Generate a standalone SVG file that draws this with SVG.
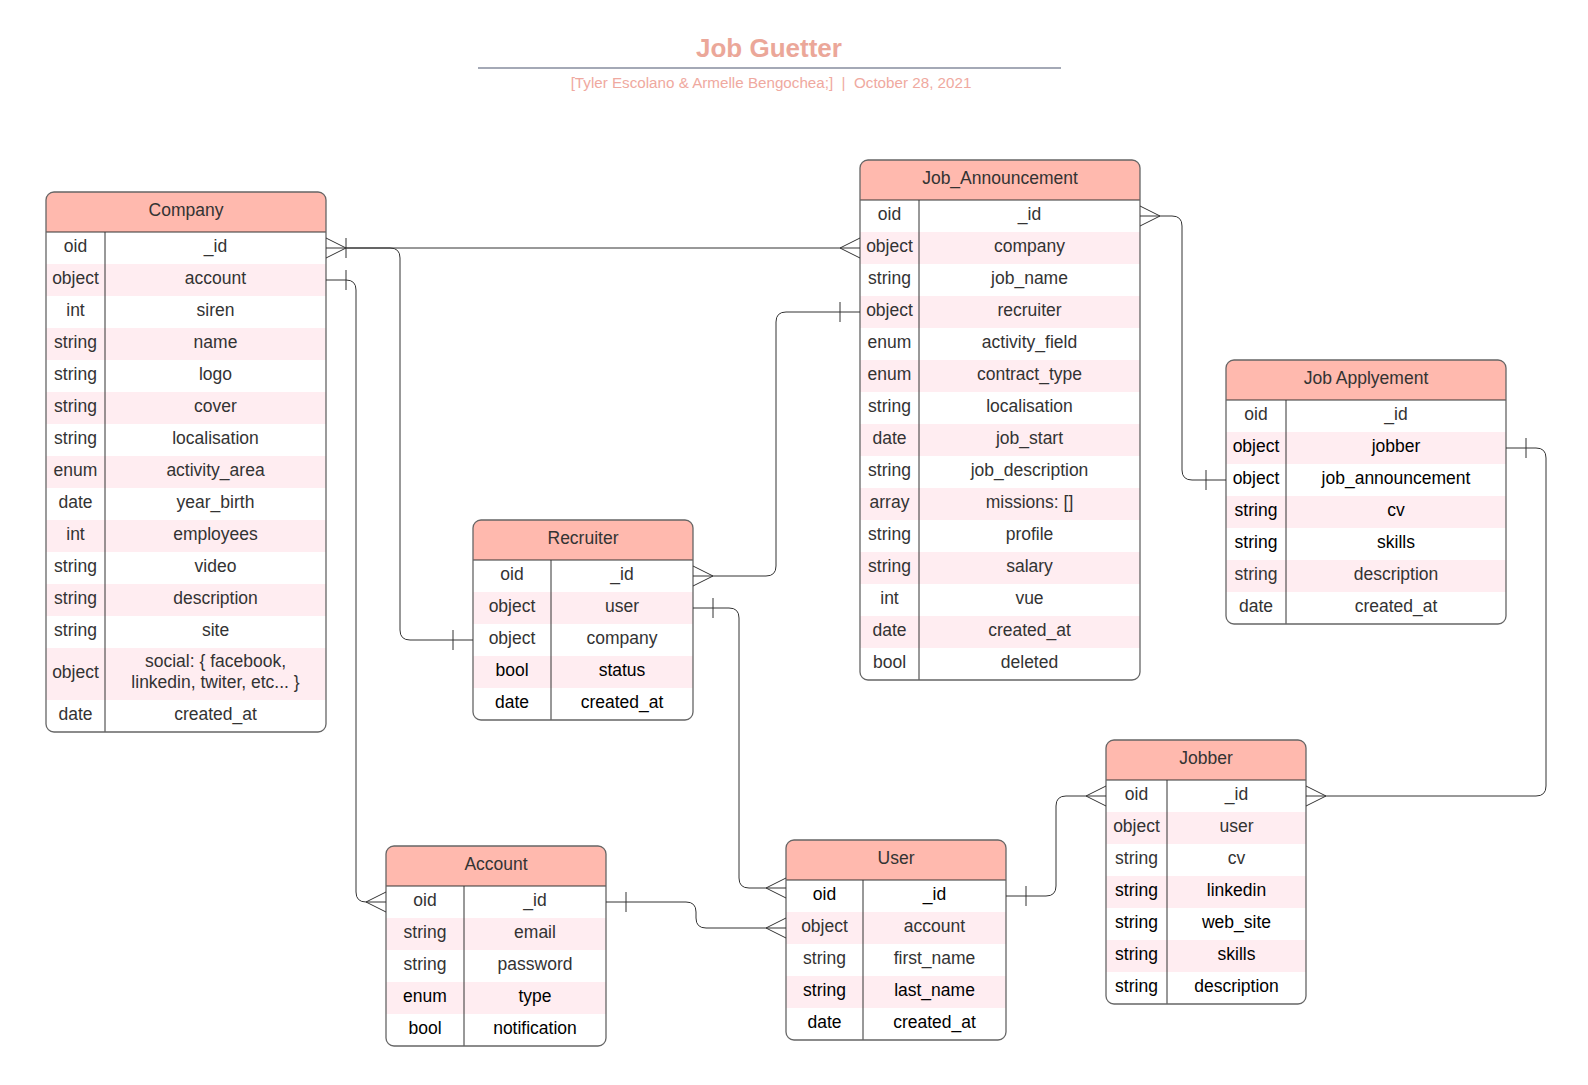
<svg xmlns="http://www.w3.org/2000/svg" width="1588" height="1085" viewBox="0 0 1588 1085">
<style>
text{font-family:"Liberation Sans",Arial,sans-serif;font-size:17.5px;fill:#333;text-anchor:middle}
.k{fill:#000}
.title{font-size:26px;font-weight:bold;fill:#EBA799}
.sub{font-size:15.2px;fill:#EFA9A0}
.bg{fill:#fff}
.hd{fill:#FFB9AE}
.pk{fill:#FFEDF1}
.ol{fill:none;stroke:#666;stroke-width:1.3}
.dv{stroke:#333;stroke-width:1}
.cn path,.cn line{fill:none;stroke:#333;stroke-width:1}
</style>
<rect width="1588" height="1085" fill="#fff"/>
<g id="title">
<text class="title" x="769" y="57">Job Guetter</text>
<line x1="478" y1="68" x2="1061" y2="68" stroke="#A4A9B6" stroke-width="1.8"/>
<text class="sub" x="771" y="88" xml:space="preserve">[Tyler Escolano &amp; Armelle Bengochea;]  |  October 28, 2021</text>
</g>

<g id="company">
<rect class="bg" x="46" y="192" width="280" height="540" rx="8"/>
<path class="hd" d="M46,232 V200 A8,8 0 0 1 54,192 H318 A8,8 0 0 1 326,200 V232 Z"/>
<rect class="pk" x="46" y="264" width="280" height="32"/>
<rect class="pk" x="46" y="328" width="280" height="32"/>
<rect class="pk" x="46" y="392" width="280" height="32"/>
<rect class="pk" x="46" y="456" width="280" height="32"/>
<rect class="pk" x="46" y="520" width="280" height="32"/>
<rect class="pk" x="46" y="584" width="280" height="32"/>
<rect class="pk" x="46" y="648" width="280" height="52"/>
<line class="dv" x1="46" y1="232" x2="326" y2="232"/>
<line class="dv" x1="105" y1="232" x2="105" y2="732"/>
<rect class="ol" x="46" y="192" width="280" height="540" rx="8"/>
<g transform="translate(0,-2)">
<text x="186" y="218">Company</text>
<text x="75.5" y="254">oid</text><text x="215.5" y="254">_id</text>
<text x="75.5" y="286">object</text><text x="215.5" y="286">account</text>
<text x="75.5" y="318">int</text><text x="215.5" y="318">siren</text>
<text x="75.5" y="350">string</text><text x="215.5" y="350">name</text>
<text x="75.5" y="382">string</text><text x="215.5" y="382">logo</text>
<text x="75.5" y="414">string</text><text x="215.5" y="414">cover</text>
<text x="75.5" y="446">string</text><text x="215.5" y="446">localisation</text>
<text x="75.5" y="478">enum</text><text x="215.5" y="478">activity_area</text>
<text x="75.5" y="510">date</text><text x="215.5" y="510">year_birth</text>
<text x="75.5" y="542">int</text><text x="215.5" y="542">employees</text>
<text x="75.5" y="574">string</text><text x="215.5" y="574">video</text>
<text x="75.5" y="606">string</text><text x="215.5" y="606">description</text>
<text x="75.5" y="638">string</text><text x="215.5" y="638">site</text>
<text x="75.5" y="680">object</text><text x="215.5" y="669">social: { facebook,</text><text x="215.5" y="690">linkedin, twiter, etc... }</text>
<text x="75.5" y="722">date</text><text x="215.5" y="722">created_at</text>
</g>
</g>

<g id="job_announcement">
<rect class="bg" x="860" y="160" width="280" height="520" rx="8"/>
<path class="hd" d="M860,200 V168 A8,8 0 0 1 868,160 H1132 A8,8 0 0 1 1140,168 V200 Z"/>
<rect class="pk" x="860" y="232" width="280" height="32"/>
<rect class="pk" x="860" y="296" width="280" height="32"/>
<rect class="pk" x="860" y="360" width="280" height="32"/>
<rect class="pk" x="860" y="424" width="280" height="32"/>
<rect class="pk" x="860" y="488" width="280" height="32"/>
<rect class="pk" x="860" y="552" width="280" height="32"/>
<rect class="pk" x="860" y="616" width="280" height="32"/>
<line class="dv" x1="860" y1="200" x2="1140" y2="200"/>
<line class="dv" x1="919" y1="200" x2="919" y2="680"/>
<rect class="ol" x="860" y="160" width="280" height="520" rx="8"/>
<g transform="translate(0,-2)">
<text x="1000" y="186">Job_Announcement</text>
<text x="889.5" y="222">oid</text><text x="1029.5" y="222">_id</text>
<text x="889.5" y="254">object</text><text x="1029.5" y="254">company</text>
<text x="889.5" y="286">string</text><text x="1029.5" y="286">job_name</text>
<text x="889.5" y="318">object</text><text x="1029.5" y="318">recruiter</text>
<text x="889.5" y="350">enum</text><text x="1029.5" y="350">activity_field</text>
<text x="889.5" y="382">enum</text><text x="1029.5" y="382">contract_type</text>
<text x="889.5" y="414">string</text><text x="1029.5" y="414">localisation</text>
<text x="889.5" y="446">date</text><text x="1029.5" y="446">job_start</text>
<text x="889.5" y="478">string</text><text x="1029.5" y="478">job_description</text>
<text x="889.5" y="510">array</text><text x="1029.5" y="510">missions: []</text>
<text x="889.5" y="542">string</text><text x="1029.5" y="542">profile</text>
<text x="889.5" y="574">string</text><text x="1029.5" y="574">salary</text>
<text x="889.5" y="606">int</text><text x="1029.5" y="606">vue</text>
<text x="889.5" y="638">date</text><text x="1029.5" y="638">created_at</text>
<text x="889.5" y="670">bool</text><text x="1029.5" y="670">deleted</text>
</g>
</g>

<g id="job_applyement">
<rect class="bg" x="1226" y="360" width="280" height="264" rx="8"/>
<path class="hd" d="M1226,400 V368 A8,8 0 0 1 1234,360 H1498 A8,8 0 0 1 1506,368 V400 Z"/>
<rect class="pk" x="1226" y="432" width="280" height="32"/>
<rect class="pk" x="1226" y="496" width="280" height="32"/>
<rect class="pk" x="1226" y="560" width="280" height="32"/>
<line class="dv" x1="1226" y1="400" x2="1506" y2="400"/>
<line class="dv" x1="1286" y1="400" x2="1286" y2="624"/>
<rect class="ol" x="1226" y="360" width="280" height="264" rx="8"/>
<g transform="translate(0,-2)">
<text x="1366" y="386">Job Applyement</text>
<text x="1256" y="422">oid</text><text x="1396" y="422">_id</text>
<text class="k" x="1256" y="454">object</text><text class="k" x="1396" y="454">jobber</text>
<text class="k" x="1256" y="486">object</text><text class="k" x="1396" y="486">job_announcement</text>
<text class="k" x="1256" y="518">string</text><text class="k" x="1396" y="518">cv</text>
<text class="k" x="1256" y="550">string</text><text class="k" x="1396" y="550">skills</text>
<text x="1256" y="582">string</text><text x="1396" y="582">description</text>
<text x="1256" y="614">date</text><text x="1396" y="614">created_at</text>
</g>
</g>

<g id="recruiter">
<rect class="bg" x="473" y="520" width="220" height="200" rx="8"/>
<path class="hd" d="M473,560 V528 A8,8 0 0 1 481,520 H685 A8,8 0 0 1 693,528 V560 Z"/>
<rect class="pk" x="473" y="592" width="220" height="32"/>
<rect class="pk" x="473" y="656" width="220" height="32"/>
<line class="dv" x1="473" y1="560" x2="693" y2="560"/>
<line class="dv" x1="551" y1="560" x2="551" y2="720"/>
<rect class="ol" x="473" y="520" width="220" height="200" rx="8"/>
<g transform="translate(0,-2)">
<text x="583" y="546">Recruiter</text>
<text x="512" y="582">oid</text><text x="622" y="582">_id</text>
<text x="512" y="614">object</text><text x="622" y="614">user</text>
<text x="512" y="646">object</text><text x="622" y="646">company</text>
<text class="k" x="512" y="678">bool</text><text class="k" x="622" y="678">status</text>
<text class="k" x="512" y="710">date</text><text class="k" x="622" y="710">created_at</text>
</g>
</g>

<g id="account">
<rect class="bg" x="386" y="846" width="220" height="200" rx="8"/>
<path class="hd" d="M386,886 V854 A8,8 0 0 1 394,846 H598 A8,8 0 0 1 606,854 V886 Z"/>
<rect class="pk" x="386" y="918" width="220" height="32"/>
<rect class="pk" x="386" y="982" width="220" height="32"/>
<line class="dv" x1="386" y1="886" x2="606" y2="886"/>
<line class="dv" x1="464" y1="886" x2="464" y2="1046"/>
<rect class="ol" x="386" y="846" width="220" height="200" rx="8"/>
<g transform="translate(0,-2)">
<text x="496" y="872">Account</text>
<text x="425" y="908">oid</text><text x="535" y="908">_id</text>
<text x="425" y="940">string</text><text x="535" y="940">email</text>
<text x="425" y="972">string</text><text x="535" y="972">password</text>
<text class="k" x="425" y="1004">enum</text><text class="k" x="535" y="1004">type</text>
<text class="k" x="425" y="1036">bool</text><text class="k" x="535" y="1036">notification</text>
</g>
</g>

<g id="user">
<rect class="bg" x="786" y="840" width="220" height="200" rx="8"/>
<path class="hd" d="M786,880 V848 A8,8 0 0 1 794,840 H998 A8,8 0 0 1 1006,848 V880 Z"/>
<rect class="pk" x="786" y="912" width="220" height="32"/>
<rect class="pk" x="786" y="976" width="220" height="32"/>
<line class="dv" x1="786" y1="880" x2="1006" y2="880"/>
<line class="dv" x1="863" y1="880" x2="863" y2="1040"/>
<rect class="ol" x="786" y="840" width="220" height="200" rx="8"/>
<g transform="translate(0,-2)">
<text x="896" y="866">User</text>
<text class="k" x="824.5" y="902">oid</text><text class="k" x="934.5" y="902">_id</text>
<text x="824.5" y="934">object</text><text x="934.5" y="934">account</text>
<text x="824.5" y="966">string</text><text x="934.5" y="966">first_name</text>
<text class="k" x="824.5" y="998">string</text><text class="k" x="934.5" y="998">last_name</text>
<text class="k" x="824.5" y="1030">date</text><text class="k" x="934.5" y="1030">created_at</text>
</g>
</g>

<g id="jobber">
<rect class="bg" x="1106" y="740" width="200" height="264" rx="8"/>
<path class="hd" d="M1106,780 V748 A8,8 0 0 1 1114,740 H1298 A8,8 0 0 1 1306,748 V780 Z"/>
<rect class="pk" x="1106" y="812" width="200" height="32"/>
<rect class="pk" x="1106" y="876" width="200" height="32"/>
<rect class="pk" x="1106" y="940" width="200" height="32"/>
<line class="dv" x1="1106" y1="780" x2="1306" y2="780"/>
<line class="dv" x1="1167" y1="780" x2="1167" y2="1004"/>
<rect class="ol" x="1106" y="740" width="200" height="264" rx="8"/>
<g transform="translate(0,-2)">
<text x="1206" y="766">Jobber</text>
<text x="1136.5" y="802">oid</text><text x="1236.5" y="802">_id</text>
<text x="1136.5" y="834">object</text><text x="1236.5" y="834">user</text>
<text x="1136.5" y="866">string</text><text x="1236.5" y="866">cv</text>
<text class="k" x="1136.5" y="898">string</text><text class="k" x="1236.5" y="898">linkedin</text>
<text class="k" x="1136.5" y="930">string</text><text class="k" x="1236.5" y="930">web_site</text>
<text class="k" x="1136.5" y="962">string</text><text class="k" x="1236.5" y="962">skills</text>
<text class="k" x="1136.5" y="994">string</text><text class="k" x="1236.5" y="994">description</text>
</g>
</g>

<g id="connectors" class="cn">
<path d="M326,248 H860"/>
<path d="M326,238 L346,248 L326,258"/>
<line x1="346" y1="238" x2="346" y2="258"/>
<path d="M860,238 L840,248 L860,258"/>
<path d="M346,248 H390 Q400,248 400,258 V630 Q400,640 410,640 H473"/>
<line x1="453" y1="630" x2="453" y2="650"/>
<path d="M326,280 H346 Q356,280 356,290 V892 Q356,902 366,902 H386"/>
<line x1="346" y1="270" x2="346" y2="290"/>
<path d="M386,892 L366,902 L386,912"/>
<path d="M693,576 H766 Q776,576 776,566 V322 Q776,312 786,312 H860"/>
<path d="M693,566 L713,576 L693,586"/>
<line x1="840" y1="302" x2="840" y2="322"/>
<path d="M693,608 H729 Q739,608 739,618 V878 Q739,888 749,888 H786"/>
<line x1="713" y1="598" x2="713" y2="618"/>
<path d="M786,878 L766,888 L786,898"/>
<path d="M606,902 H686 Q696,902 696,912 V918 Q696,928 706,928 H786"/>
<line x1="626" y1="892" x2="626" y2="912"/>
<path d="M786,918 L766,928 L786,938"/>
<path d="M1006,896 H1046 Q1056,896 1056,886 V806 Q1056,796 1066,796 H1106"/>
<line x1="1026" y1="886" x2="1026" y2="906"/>
<path d="M1106,786 L1086,796 L1106,806"/>
<path d="M1306,796 H1536 Q1546,796 1546,786 V458 Q1546,448 1536,448 H1506"/>
<path d="M1306,786 L1326,796 L1306,806"/>
<line x1="1526" y1="438" x2="1526" y2="458"/>
<path d="M1140,216 H1172 Q1182,216 1182,226 V470 Q1182,480 1192,480 H1226"/>
<path d="M1140,206 L1160,216 L1140,226"/>
<line x1="1206" y1="470" x2="1206" y2="490"/>
</g>
</svg>
